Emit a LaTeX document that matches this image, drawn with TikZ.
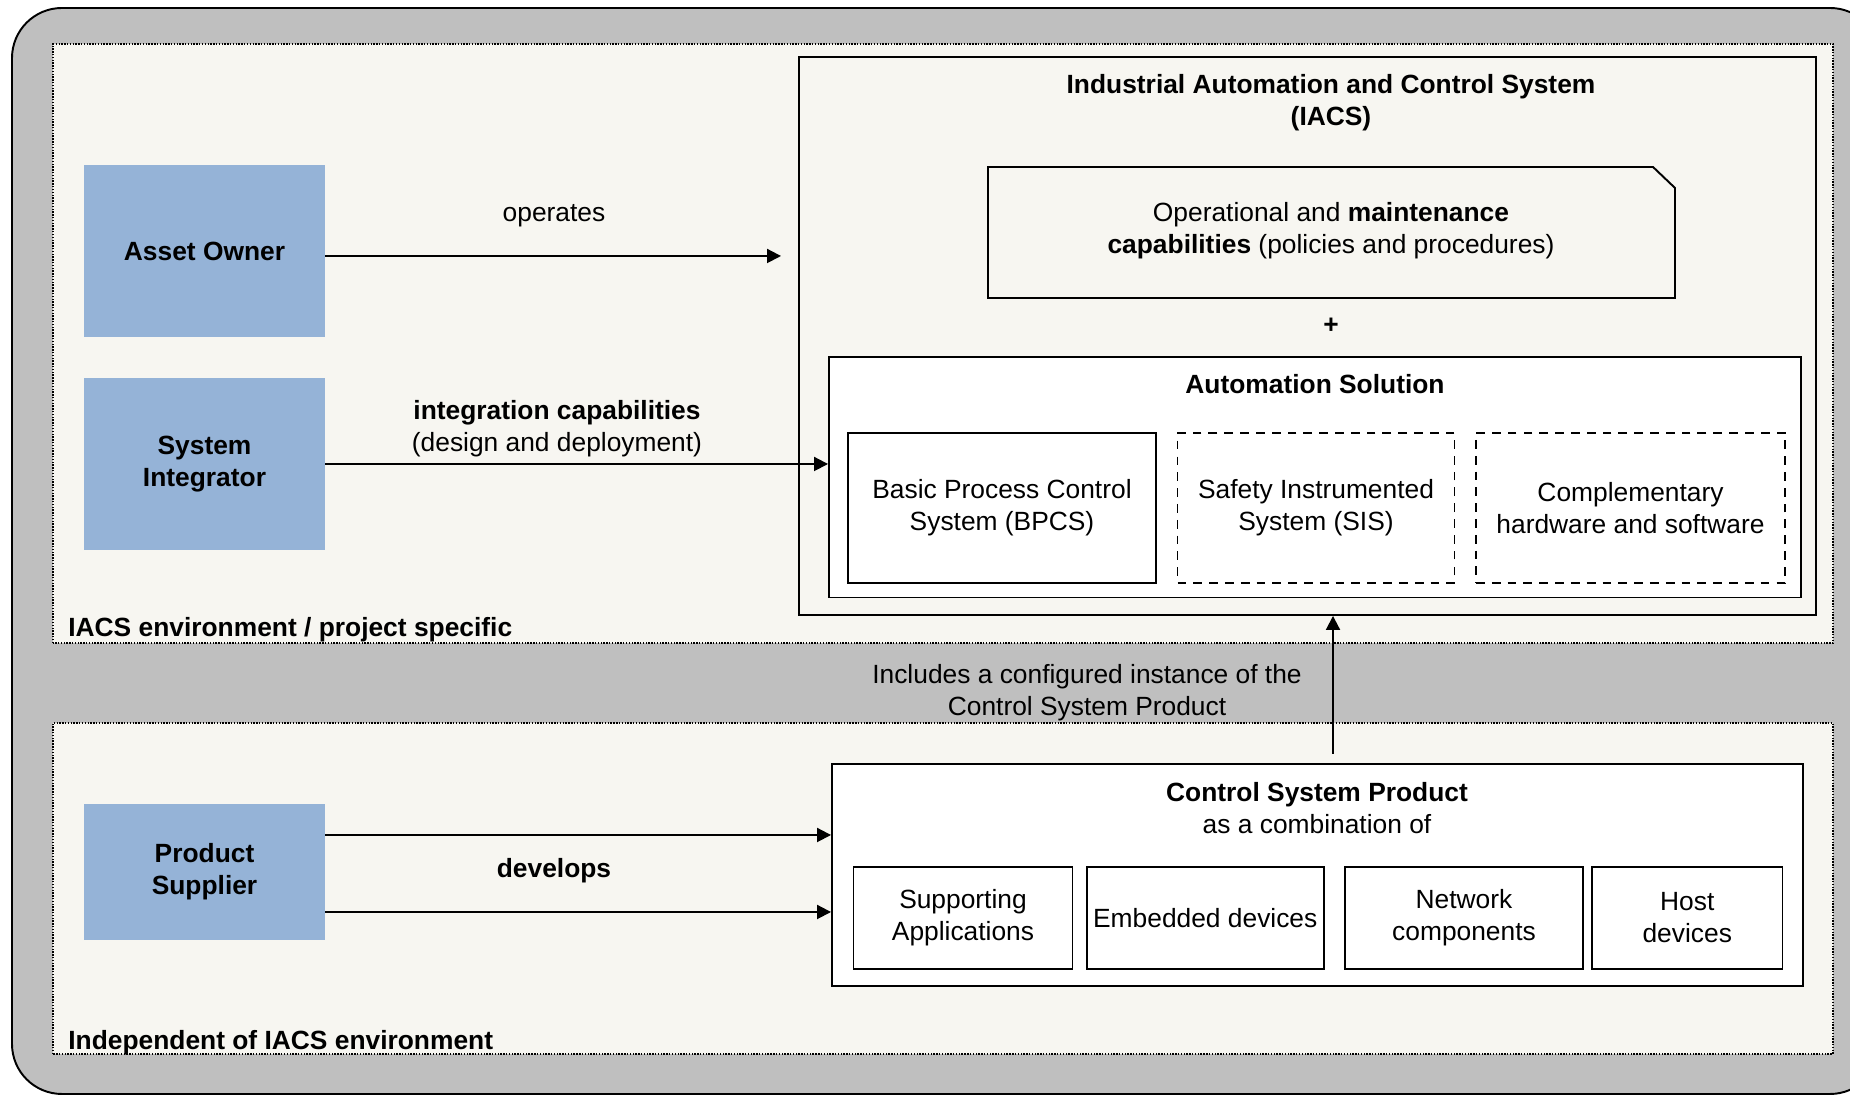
\documentclass[tikz,border=0pt]{standalone}
\usepackage{fontspec}
\setmainfont{Liberation Sans}
\usetikzlibrary{arrows.meta}
\definecolor{frame}{RGB}{191,191,191}
\definecolor{paper}{RGB}{247,246,241}
\definecolor{actor}{RGB}{149,179,215}
\tikzset{
  actorbox/.style={fill=actor, minimum width=4.82cm, font=\bfseries, align=center},
  partbox/.style={draw, line width=1pt, fill=white, align=center, inner sep=0pt},
  optbox/.style={partbox, dash pattern=on 5pt off 4pt},
  arr/.style={-{Triangle[length=0.28cm,width=0.28cm]}, line width=1.1pt},
  envbox/.style={fill=paper, draw, line width=0.6pt, dash pattern=on 0.8pt off 0.8pt},
}
\begin{document}
\begin{tikzpicture}
            \fontsize{15}{18.2}\selectfont
            \useasboundingbox (0,0) rectangle (37,21.92);
            % frame and the two areas
            \draw[fill=frame, line width=1.1pt, rounded corners=1cm] (0.24,0.04) rectangle (37.6,21.76);
            \draw[envbox] (1.06,9.06) rectangle (36.66,21.04);
            \draw[envbox] (1.06,0.84) rectangle (36.66,7.46);
            \node[anchor=base west, inner sep=0pt, font=\bfseries] (envtop) at (1.36,9.18) {IACS environment / project specific};
            \node[anchor=base west, inner sep=0pt, font=\bfseries] (envbot) at (1.36,0.93) {Independent of IACS environment};
            % actors
            \node[actorbox, minimum height=3.44cm] (ao) at (4.09,16.9) {Asset Owner};
            \node[actorbox, minimum height=3.44cm] (si) at (4.09,12.64) {System\\Integrator};
            \node[actorbox, minimum height=2.72cm] (ps) at (4.09,4.48) {Product\\Supplier};
            % IACS
            \node[draw, line width=1.1pt, minimum width=20.34cm, minimum height=11.16cm] (iacs) at (26.15,15.2) {};
            \node[font=\bfseries, align=center] (iacstitle) at (26.62,19.87) {Industrial Automation and Control System\\(IACS)};
            \draw[line width=1.1pt] (19.76,18.58) -- (33.06,18.58) -- (33.5,18.16) -- (33.5,15.96) -- (19.76,15.96) -- cycle;
            \node[align=center] (ops) at (26.62,17.3) {Operational and \textbf{maintenance}\\\textbf{capabilities} (policies and procedures)};
            \node[font=\bfseries] (plus) at (26.62,15.41) {+};
            \node[partbox, line width=1.1pt, minimum width=19.44cm, minimum height=4.81cm] (autsol) at (26.3,12.375) {};
            \node[font=\bfseries] (autsoltitle) at (26.3,14.24) {Automation Solution};
            \node[partbox, minimum width=6.16cm, minimum height=3cm] (bpcs) at (20.04,11.76) {Basic Process Control\\System (BPCS)};
            \node[optbox, minimum width=5.54cm, minimum height=3cm] (sis) at (26.32,11.76) {Safety Instrumented\\System (SIS)};
            \node[optbox, minimum width=6.18cm, minimum height=3cm] (comp) at (32.61,11.76) {Complementary\\hardware and software};
            % product
            \node[partbox, line width=1.1pt, minimum width=19.42cm, minimum height=4.44cm] (csp) at (26.35,4.42) {};
            \node[align=center] (csptitle) at (26.34,5.75) {\textbf{Control System Product}\\as a combination of};
            \node[partbox, minimum width=4.38cm, minimum height=2.04cm] (sup) at (19.26,3.56) {Supporting\\Applications};
            \node[partbox, minimum width=4.74cm, minimum height=2.04cm] (emb) at (24.105,3.56) {Embedded devices};
            \node[partbox, minimum width=4.76cm, minimum height=2.04cm] (net) at (29.28,3.56) {Network\\components};
            \node[partbox, minimum width=3.81cm, minimum height=2.04cm] (host) at (33.745,3.56) {Host\\devices};
            % connectors
            \coordinate (opstart) at ([yshift=-0.1cm]ao.east);
            \draw[arr, shorten >=0.34cm] (opstart) -- (opstart -| iacs.west);
            \node (oplabel) at (11.08,17.6) {operates};
            \draw[arr] (si.east) -- (si.east -| autsol.west);
            \node[align=center] (intlabel) at (11.14,13.34) {\textbf{integration capabilities}\\(design and deployment)};
            \coordinate (devtop) at ([yshift=0.74cm]ps.east);
            \coordinate (devbot) at ([yshift=-0.8cm]ps.east);
            \draw[arr] (devtop) -- (devtop -| csp.west);
            \draw[arr] (devbot) -- (devbot -| csp.west);
            \node[font=\bfseries] (devlabel) at (11.08,4.51) {develops};
            \coordinate (inst) at (26.66,6.84);
            \draw[arr] (inst) -- (inst |- iacs.south);
            \node[align=center] (instlabel) at (21.74,8.07) {Includes a configured instance of the\\Control System Product};
\end{tikzpicture}
\end{document}
